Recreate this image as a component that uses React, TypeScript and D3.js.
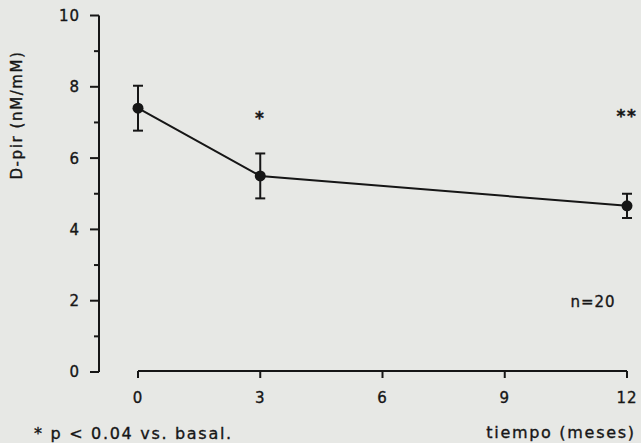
import React, { useEffect, useRef } from "react";
import * as d3 from "d3";

// months after start
const months = [0, 3, 12];
// D-pir mean values (nM/mM)
const means = [7.4, 5.5, 4.66];
// error bar half-widths
const errors = [0.63, 0.63, 0.34];
// significance marks above the points
const marks = ["", "*", "**"];
const markValues = [0, 7.3, 7.35];

const xTicks = [0, 3, 6, 9, 12];
const yMajor = [0, 2, 4, 6, 8, 10];
const yMinor = [1, 3, 5, 7, 9];

const W = 641;
const H = 443;
const ink = "#161616";
const font = "'DejaVu Sans', Verdana, sans-serif";

const App = () => {
  const ref = useRef<SVGSVGElement>(null);

  useEffect(() => {
    const svg = d3.select(ref.current);
    svg.selectAll("*").remove();

    const x = d3.scaleLinear().domain([0, 12]).range([138, 627]);
    const y = d3.scaleLinear().domain([0, 10]).range([372, 15.5]);
    const yAxisX = 99;
    const xAxisY = 371;

    svg.append("rect").attr("width", W).attr("height", H).attr("fill", "#e7e8e5");

    // scanned print looks a bit heavier, so give text a thin outline
    const label = (sel: any, size: number, spacing: number) =>
      sel
        .attr("font-family", font)
        .attr("font-size", size)
        .attr("letter-spacing", spacing)
        .attr("fill", ink)
        .attr("stroke", ink)
        .attr("stroke-width", 0.35);

    // y axis
    const g = svg.append("g").attr("stroke", ink).attr("stroke-width", 2);
    g.append("line").attr("x1", yAxisX).attr("x2", yAxisX).attr("y1", y(10)).attr("y2", y(0));
    g.selectAll(".ymaj")
      .data(yMajor)
      .enter()
      .append("line")
      .attr("x1", yAxisX - 9)
      .attr("x2", yAxisX)
      .attr("y1", (d) => y(d))
      .attr("y2", (d) => y(d));
    g.selectAll(".ymin")
      .data(yMinor)
      .enter()
      .append("line")
      .attr("x1", yAxisX - 5)
      .attr("x2", yAxisX)
      .attr("y1", (d) => y(d))
      .attr("y2", (d) => y(d));

    label(
      svg
        .selectAll(".ylab")
        .data(yMajor)
        .enter()
        .append("text")
        .attr("x", 80)
        .attr("y", (d) => y(d))
        .attr("dy", "0.36em")
        .attr("text-anchor", "end"),
      15,
      1
    ).text((d) => d);

    // x axis
    g.append("line").attr("x1", x(0)).attr("x2", x(12)).attr("y1", xAxisY).attr("y2", xAxisY);
    g.selectAll(".xt")
      .data(xTicks)
      .enter()
      .append("line")
      .attr("x1", (d) => x(d))
      .attr("x2", (d) => x(d))
      .attr("y1", xAxisY)
      .attr("y2", xAxisY + 7);

    label(
      svg
        .selectAll(".xlab")
        .data(xTicks)
        .enter()
        .append("text")
        .attr("x", (d) => x(d))
        .attr("y", 398)
        .attr("dy", "0.36em")
        .attr("text-anchor", "middle"),
      15,
      1
    ).text((d) => d);

    // axis titles
    label(
      svg
        .append("text")
        .attr("transform", "translate(17,115) rotate(-90)")
        .attr("dy", "0.36em")
        .attr("text-anchor", "middle"),
      15,
      1.6
    ).text("D-pir (nM/mM)");

    label(
      svg.append("text").attr("x", 561).attr("y", 432).attr("dy", "0.36em").attr("text-anchor", "middle"),
      16,
      1.7
    ).text("tiempo (meses)");

    label(svg.append("text").attr("x", 34).attr("y", 433).attr("dy", "0.36em"), 16, 1.7).text(
      "* p < 0.04 vs. basal."
    );

    label(
      svg.append("text").attr("x", 593).attr("y", 302).attr("dy", "0.36em").attr("text-anchor", "middle"),
      15,
      1
    ).text("n=20");

    const pts = months.map((m, i) => ({ m, v: means[i], e: errors[i], mark: marks[i], mv: markValues[i] }));

    // error bars
    const eb = svg.append("g").attr("stroke", ink).attr("stroke-width", 2);
    pts.forEach((p) => {
      eb.append("line").attr("x1", x(p.m)).attr("x2", x(p.m)).attr("y1", y(p.v + p.e)).attr("y2", y(p.v - p.e));
      [p.v + p.e, p.v - p.e].forEach((v) => {
        eb.append("line").attr("x1", x(p.m) - 5).attr("x2", x(p.m) + 5).attr("y1", y(v)).attr("y2", y(v));
      });
    });

    // line
    const line = d3
      .line<{ m: number; v: number }>()
      .x((d) => x(d.m))
      .y((d) => y(d.v));
    svg.append("path").datum(pts).attr("d", line).attr("fill", "none").attr("stroke", ink).attr("stroke-width", 2);

    svg
      .selectAll(".pt")
      .data(pts)
      .enter()
      .append("circle")
      .attr("cx", (d) => x(d.m))
      .attr("cy", (d) => y(d.v))
      .attr("r", 5.5)
      .attr("fill", ink);

    // significance marks
    label(
      svg
        .selectAll(".mark")
        .data(pts.filter((p) => p.mark))
        .enter()
        .append("text")
        .attr("x", (d) => x(d.m))
        .attr("y", (d) => y(d.mv))
        .attr("dy", "0.7em")
        .attr("text-anchor", "middle")
        .attr("font-weight", "bold"),
      17,
      1.5
    ).text((d) => d.mark);
  }, []);

  return (
    <div style={{ position: "absolute", left: 0, top: 0 }}>
      <svg ref={ref} width={W} height={H} style={{ display: "block" }}></svg>
    </div>
  );
};

export default App;
